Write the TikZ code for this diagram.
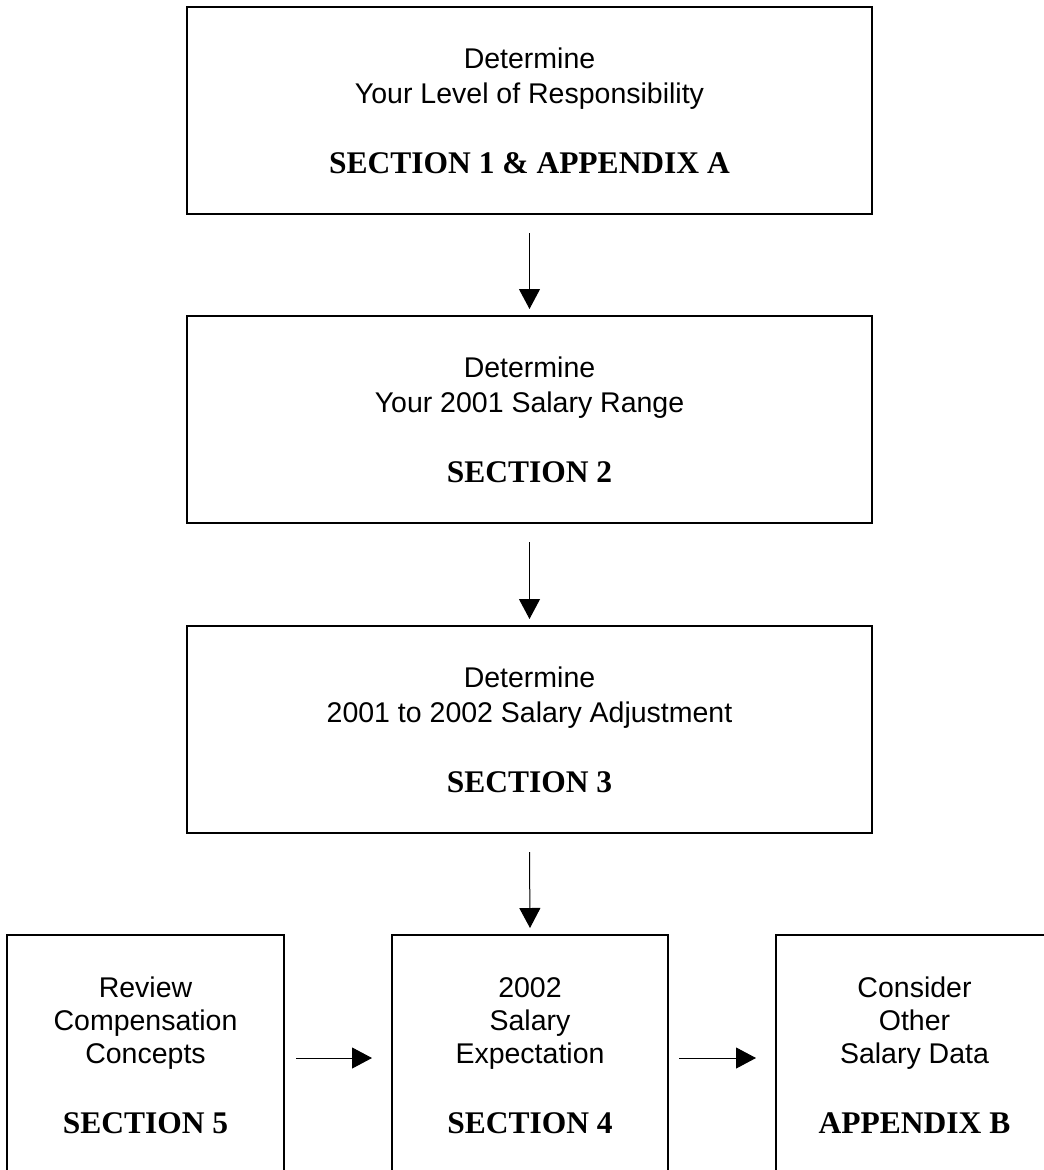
\documentclass[tikz,border=0pt]{standalone}
\usepackage{fontspec}
\setmainfont{Liberation Serif}
\newfontfamily\arialf{Liberation Sans}
\usetikzlibrary{arrows.meta}
\begin{document}
\begin{tikzpicture}[x=1pt,y=-1pt,
  box/.style={draw, line width=2.2pt, outer sep=0pt, inner sep=0pt},
  arr/.style={line width=1pt, -{Triangle[length=20pt,width=21pt]}},
  lbl/.style={anchor=base, font=\arialf\fontsize{28.5}{34}\selectfont, inner sep=0pt},
  sec/.style={anchor=base, font=\bfseries\fontsize{31.5}{36}\selectfont, inner sep=0pt}]
\useasboundingbox (0,0) rectangle (1044,1170);
\clip (0,0) rectangle (1044,1170);

% boxes
\node[box, minimum width=685pt, minimum height=207pt] (b1) at (529.5,110.5) {};
\node[box, minimum width=685pt, minimum height=207pt] (b2) at (529.5,419.5) {};
\node[box, minimum width=685pt, minimum height=207pt] (b3) at (529.5,729.5) {};
\node[box, minimum width=277pt, minimum height=265pt] (b4) at (145.5,1067.5) {};
\node[box, minimum width=276pt, minimum height=265pt] (b5) at (530,1067.5) {};
\node[box, minimum width=277pt, minimum height=265pt] (b6) at (914.5,1067.5) {};

% texts box 1
\node[lbl] (t11) at (529.5,68) {Determine};
\node[lbl] (t12) at (529.5,103) {Your Level of Responsibility};
\node[sec] (t13) at (529.5,173) {SECTION 1 \& APPENDIX A};
% box 2
\node[lbl] (t21) at (529.5,377) {Determine};
\node[lbl] (t22) at (529.5,412) {Your 2001 Salary Range};
\node[sec] (t23) at (529.5,482) {SECTION 2};
% box 3
\node[lbl] (t31) at (529.5,687) {Determine};
\node[lbl] (t32) at (529.5,722) {2001 to 2002 Salary Adjustment};
\node[sec] (t33) at (529.5,792) {SECTION 3};
% box 4
\node[lbl] (t41) at (145.5,997) {Review};
\node[lbl] (t42) at (145.5,1030) {Compensation};
\node[lbl] (t43) at (145.5,1063) {Concepts};
\node[sec] (t44) at (145.5,1133) {SECTION 5};
% box 5
\node[lbl] (t51) at (530,997) {2002};
\node[lbl] (t52) at (530,1030) {Salary};
\node[lbl] (t53) at (530,1063) {Expectation};
\node[sec] (t54) at (530,1133) {SECTION 4};
% box 6
\node[lbl] (t61) at (914.5,997) {Consider};
\node[lbl] (t62) at (914.5,1030) {Other};
\node[lbl] (t63) at (914.5,1063) {Salary Data};
\node[sec] (t64) at (914.5,1133) {APPENDIX B};

% connectors
\draw[arr] ([yshift=-19pt]b1.south) -- ([yshift=7pt]b2.north);
\draw[arr] ([yshift=-19pt]b2.south) -- ([yshift=7pt]b3.north);
\draw[arr] ([yshift=-19pt]b3.south) -- ([yshift=7pt]b5.north);
\draw[arr] ([shift={(12pt,-123pt)}]b4.north east) -- ([shift={(-20pt,-123pt)}]b5.north west);
\draw[arr] ([shift={(11pt,-123pt)}]b5.north east) -- ([shift={(-20pt,-123pt)}]b6.north west);
\end{tikzpicture}
\end{document}
